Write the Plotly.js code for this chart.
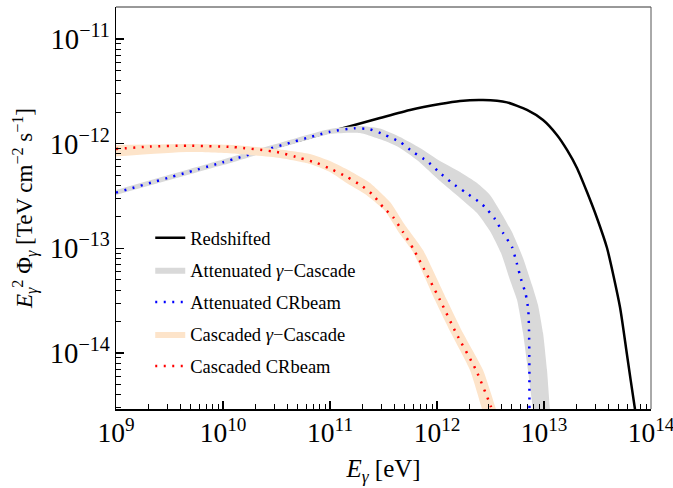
<!DOCTYPE html>
<html><head><meta charset="utf-8">
<script src="https://cdn.plot.ly/plotly-3.0.1.min.js"></script>
<style>html,body{margin:0;padding:0;background:#fff}#chart{width:673px;height:488px}</style>
</head><body><div id="chart"></div><script>
// Redshifted
const redE = [1e9, 1e10, 1e11, 2.93e11, 5.60e11, 1.067e12, 1.641e12, 2.692e12, 4.508e12, 6.934e12, 9.795e12, 1.321e13, 1.641e13, 2.032e13, 2.523e13, 3.126e13, 3.882e13, 5.129e13, 5.970e13, 7.079e13, 7.39e13];
const redF = [3.40e-13, 6.65e-13, 1.30e-12, 1.758e-12, 2.099e-12, 2.393e-12, 2.559e-12, 2.612e-12, 2.483e-12, 2.099e-12, 1.683e-12, 1.211e-12, 8.71e-13, 5.86e-13, 3.45e-13, 1.950e-13, 1.007e-13, 2.754e-14, 9.57e-15, 2.92e-15, 2.29e-15];

// Attenuated gamma-Cascade band
const attUpE = [1e9, 1e10, 1e11, 1.905e11, 2.931e11, 4.508e11, 6.934e11, 1.067e12, 1.641e12, 2.366e12, 3.126e12, 3.882e12, 5.023e12, 6.368e12, 7.727e12, 8.79e12, 9.795e12, 1.067e13, 1.138e13, 1.162e13];
const attUpF = [3.61e-13, 7.06e-13, 1.380e-12, 1.476e-12, 1.396e-12, 1.159e-12, 9.10e-13, 6.82e-13, 5.36e-13, 4.21e-13, 3.24e-13, 2.28e-13, 1.432e-13, 8.09e-14, 4.47e-14, 2.88e-14, 1.552e-14, 6.89e-15, 2.92e-15, 2.50e-15];
const attLoE = [1e9, 1e10, 1e11, 1.905e11, 3.266e11, 4.508e11, 6.501e11, 1.067e12, 1.641e12, 2.366e12, 3.126e12, 3.963e12, 4.808e12, 5.598e12, 6.368e12, 7.079e12, 7.889e12, 8.07e12];
const attLoF = [3.24e-13, 6.25e-13, 1.236e-12, 1.265e-12, 1.059e-12, 9.10e-13, 6.98e-13, 4.40e-13, 3.03e-13, 2.18e-13, 1.466e-13, 9.02e-14, 4.99e-14, 3.21e-14, 1.552e-14, 6.89e-15, 2.92e-15, 2.50e-15];

// Attenuated CRbeam
const attCrE = [1e9, 1e10, 1e11, 1.714e11, 2.366e11, 3.266e11, 4.508e11, 5.970e11, 8.072e11, 1.045e12, 1.380e12, 1.828e12, 2.415e12, 2.812e12, 3.483e12, 4.140e12, 5.023e12, 5.559e12, 6.095e12, 6.745e12, 7.129e12, 7.244e12, 7.295e12, 7.311e12, 7.32e12];
const attCrF = [3.404e-13, 6.65e-13, 1.300e-12, 1.403e-12, 1.371e-12, 1.211e-12, 1.038e-12, 8.32e-13, 6.82e-13, 5.36e-13, 4.21e-13, 3.45e-13, 2.83e-13, 2.48e-13, 1.905e-13, 1.403e-13, 1.030e-13, 7.24e-14, 5.09e-14, 3.66e-14, 2.58e-14, 1.66e-14, 8.57e-15, 2.92e-15, 2.4e-15];

// Cascaded gamma-Cascade band
const casUpE = [1e9, 4.613e9, 1.239e10, 3.412e10, 6.501e10, 1e11, 1.538e11, 2.366e11, 3.639e11, 5.023e11, 7.396e11, 1.239e12, 1.750e12, 2.692e12, 3.556e12, 3.715e12];
const casUpF = [9.71e-13, 9.93e-13, 9.71e-13, 8.79e-13, 7.96e-13, 6.82e-13, 5.48e-13, 4.21e-13, 2.77e-13, 1.671e-13, 9.64e-14, 3.21e-14, 1.552e-14, 6.89e-15, 2.92e-15, 2.50e-15];
const casLoE = [1e9, 4.613e9, 1.239e10, 3.412e10, 6.501e10, 1e11, 1.380e11, 2.123e11, 3.266e11, 4.508e11, 5.970e11, 9.57e11, 1.352e12, 2.032e12, 2.636e12, 2.748e12];
const casLoF = [7.53e-13, 8.32e-13, 8.05e-13, 7.29e-13, 6.40e-13, 5.36e-13, 4.31e-13, 3.30e-13, 2.28e-13, 1.371e-13, 9.23e-14, 3.21e-14, 1.552e-14, 6.89e-15, 2.92e-15, 2.50e-15];

// Cascaded CRbeam
const casCrE = [1e9, 2.080e9, 4.613e9, 1.239e10, 3.199e10, 5.248e10, 7.568e10, 1.067e11, 1.442e11, 1.991e11, 2.523e11, 3.126e11, 3.882e11, 4.808e11, 6.095e11, 1.067e12, 1.507e12, 2.312e12, 3.199e12, 3.334e12];
const casCrF = [8.89e-13, 9.40e-13, 9.57e-13, 9.29e-13, 8.32e-13, 7.29e-13, 6.53e-13, 5.60e-13, 4.81e-13, 3.94e-13, 3.24e-13, 2.48e-13, 1.991e-13, 1.432e-13, 9.64e-14, 3.21e-14, 1.552e-14, 6.89e-15, 3.05e-15, 2.56e-15];

const legendNames = ['Redshifted', 'Attenuated <i>γ</i>−Cascade', 'Attenuated CRbeam', 'Cascaded <i>γ</i>−Cascade', 'Cascaded CRbeam'];

function band(upE, upF, loE, loF) {
  return {x: upE.concat(loE.slice().reverse()), y: upF.concat(loF.slice().reverse())};
}
const attBand = band(attUpE, attUpF, attLoE, attLoF);
const casBand = band(casUpE, casUpF, casLoE, casLoF);

const dots = '2px,6.5px';
const traces = [
  {x: redE, y: redF, name: legendNames[0], mode: 'lines', line: {color: '#000', width: 2.5, shape: 'spline', smoothing: 0.6}, legendgroup: 'a'},
  {x: attBand.x, y: attBand.y, name: legendNames[1], mode: 'lines', fill: 'toself', fillcolor: '#d9d9d9', line: {width: 0, color: '#d9d9d9', shape: 'spline', smoothing: 0.5}, legendgroup: 'b'},
  {x: attCrE, y: attCrF, name: legendNames[2], mode: 'lines', line: {color: '#0000ff', width: 2.5, dash: dots, shape: 'spline', smoothing: 0.5}, legendgroup: 'c'},
  {x: casBand.x, y: casBand.y, name: legendNames[3], mode: 'lines', fill: 'toself', fillcolor: '#fde4ca', line: {width: 0, color: '#fde4ca', shape: 'spline', smoothing: 0.5}, legendgroup: 'd'},
  {x: casCrE, y: casCrF, name: legendNames[4], mode: 'lines', line: {color: '#ff0000', width: 2.5, dash: dots, shape: 'spline', smoothing: 0.5}, legendgroup: 'e'}
];

const serif = '"Liberation Serif", "Times New Roman", "DejaVu Serif", serif';
const layout = {
  width: 673, height: 488,
  margin: {l: 116, r: 22, t: 7, b: 79},
  paper_bgcolor: '#fff', plot_bgcolor: '#fff',
  font: {family: serif, color: '#000', size: 22},
  showlegend: true,
  legend: {x: 0.064, y: 0.472, xanchor: 'left', yanchor: 'top', bgcolor: 'rgba(0,0,0,0)', font: {family: serif, size: 18.5, color: '#000'}, traceorder: 'grouped', tracegroupgap: 5},
  xaxis: {
    type: 'log', range: [9, 14], dtick: 1, exponentformat: 'power',
    showline: true, linecolor: '#000', linewidth: 1.5, mirror: false,
    ticks: 'inside', ticklen: 8, tickwidth: 1.2, tickcolor: '#000',
    minor: {ticks: 'inside', ticklen: 5, tickwidth: 1, tickcolor: '#000', dtick: 'D1', showgrid: false},
    showgrid: false, zeroline: false, ticklabeloverflow: 'allow',
    tickfont: {family: serif, size: 22},
    title: {text: '<i>E</i><sub><i>γ</i></sub> [eV]', font: {family: serif, size: 25}, standoff: 12}
  },
  yaxis: {
    type: 'log', range: [-14.535, -10.694], dtick: 1, exponentformat: 'power',
    showline: true, linecolor: '#000', linewidth: 1.5, mirror: false,
    ticks: 'inside', ticklen: 8, tickwidth: 1.2, tickcolor: '#000',
    minor: {ticks: 'inside', ticklen: 5, tickwidth: 1, tickcolor: '#000', dtick: 'D1', showgrid: false},
    showgrid: false, zeroline: false, ticklabeloverflow: 'allow',
    tickfont: {family: serif, size: 23},
    title: {text: '<i>E</i><sub><i>γ</i></sub><sup>2</sup> Φ<sub><i>γ</i></sub> [TeV cm<sup>−2</sup> s<sup>−1</sup>]', font: {family: serif, size: 23}, standoff: 10}
  },
  shapes: [
    {type: 'line', xref: 'paper', yref: 'paper', x0: 0, x1: 1, y0: 1, y1: 1, line: {color: '#333', width: 1}},
    {type: 'line', xref: 'paper', yref: 'paper', x0: 1, x1: 1, y0: 0, y1: 1, line: {color: '#555', width: 1}}
  ]
};
Plotly.newPlot('chart', traces, layout, {displayModeBar: false, staticPlot: true});
</script></body></html>
